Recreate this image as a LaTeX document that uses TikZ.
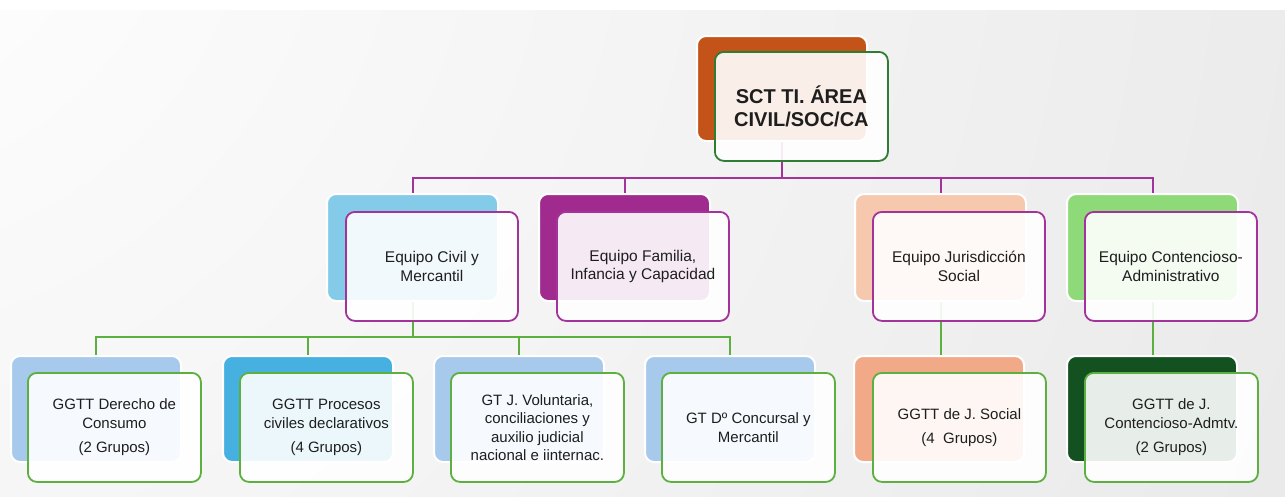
\documentclass[tikz,border=0pt]{standalone}
\usepackage{fontspec}
\setmainfont{Liberation Sans}
\usetikzlibrary{positioning}
\pgfdeclarelayer{bgfill}
\pgfdeclarelayer{conn}
\pgfsetlayers{bgfill,conn,main}
\definecolor{toporange}{HTML}{C4531A}
\definecolor{topgreen}{HTML}{2E7D32}
\definecolor{purp}{HTML}{A3339A}
\definecolor{lgreen}{HTML}{5BB040}
\definecolor{cCivil}{HTML}{84CBEA}
\definecolor{cFam}{HTML}{A12A8F}
\definecolor{cSoc}{HTML}{F6C8AD}
\definecolor{cCA}{HTML}{8FDA78}
\definecolor{cLblue}{HTML}{A7C9EB}
\definecolor{cProc}{HTML}{46B0E1}
\definecolor{cSoc3}{HTML}{F2A987}
\definecolor{cCA3}{HTML}{145121}
\definecolor{txt}{HTML}{1E1E1E}
\tikzset{
  backbox/.style={rectangle, rounded corners=9pt, draw=white, line width=2pt, inner sep=0pt, anchor=north west},
  frontbox/.style={rectangle, rounded corners=9pt, line width=1.8pt, fill=white, fill opacity=0.9, text opacity=1, text=txt, align=center, inner sep=0pt, anchor=north west},
  lvtwoback/.style={backbox, minimum width=171pt, minimum height=107pt},
  lvtwofront/.style={frontbox, draw=purp, minimum width=172pt, minimum height=109pt, font=\fontsize{15.5}{18.5}\selectfont},
  lvthreeback/.style={backbox, minimum width=170pt, minimum height=106pt},
  lvthreefront/.style={frontbox, draw=lgreen, minimum width=173pt, minimum height=109pt, font=\fontsize{15}{18.5}\selectfont},
  purpline/.style={draw=purp, line width=2pt},
  greenline/.style={draw=lgreen, line width=2pt},
}
\begin{document}
\begin{tikzpicture}[x=1pt,y=-1pt]
\useasboundingbox (0,0) rectangle (1285,496);
\begin{pgfonlayer}{bgfill}
\fill[white] (0,0) rectangle (1285,496);
\begin{scope}
\clip (0,10) rectangle (1285,496);
\shade[inner color=white, outer color=black!9] (-150,-150) circle (1700);
\end{scope}
\end{pgfonlayer}

% top
\node[backbox, fill=toporange, minimum width=170pt, minimum height=105pt] (topb) at (696,35) {};
\node[frontbox, draw=topgreen, minimum width=173pt, minimum height=109pt, font=\fontsize{20}{23.5}\selectfont\bfseries] (topf) at (714,51) {SCT TI. ÁREA\\CIVIL/SOC/CA};

% level 2
\node[lvtwoback, fill=cCivil] (civb) at (326,193) {};
\node[lvtwofront] (civf) at (345,211) {Equipo Civil y\\Mercantil};
\node[lvtwoback, fill=cFam] (famb) at (538,193) {};
\node[lvtwofront] (famf) at (556,211) {Equipo Familia,\\Infancia y Capacidad};
\node[lvtwoback, fill=cSoc] (socb) at (854,193) {};
\node[lvtwofront] (socf) at (872,211) {Equipo Jurisdicción\\Social};
\node[lvtwoback, fill=cCA] (cab) at (1066,193) {};
\node[lvtwofront] (caf) at (1084,211) {Equipo Contencioso-\\Administrativo};

% level 3
\node[lvthreeback, fill=cLblue] (conb) at (10,355) {};
\node[lvthreefront] (conf) at (27,372) {GGTT Derecho de\\Consumo\\[6pt](2 Grupos)};
\node[lvthreeback, fill=cProc] (prob) at (222,355) {};
\node[lvthreefront] (prof) at (239,372) {GGTT Procesos\\civiles declarativos\\[6pt](4 Grupos)};
\node[lvthreeback, fill=cLblue] (volb) at (433,355) {};
\node[lvthreefront] (volf) at (450,372) {GT J. Voluntaria,\\conciliaciones y\\auxilio judicial\\nacional e iinternac.};
\node[lvthreeback, fill=cLblue] (concb) at (644,355) {};
\node[lvthreefront] (concf) at (661,372) {GT Dº Concursal y\\Mercantil};
\node[lvthreeback, fill=cSoc3] (js3b) at (853,355) {};
\node[lvthreefront] (js3f) at (872,372) {GGTT de J. Social\\[6pt](4~~Grupos)};
\node[lvthreeback, fill=cCA3] (ca3b) at (1066,355) {};
\node[lvthreefront] (ca3f) at (1084,372) {GGTT de J.\\Contencioso-Admtv.\\[6pt](2 Grupos)};

\begin{pgfonlayer}{conn}
\coordinate (busa) at (0,178);
\draw[purpline] (topb.south) -- (topb.south |- busa);
\draw[purpline] (civb.north) -- (civb.north |- busa) -- (cab.north |- busa) -- (cab.north);
\draw[purpline] (famb.north) -- (famb.north |- busa);
\draw[purpline] (socb.north) -- (socb.north |- busa);
\coordinate (busb) at (0,337);
\draw[greenline] (civb.south) -- (civb.south |- busb);
\draw[greenline] (conb.north) -- (conb.north |- busb) -- (concb.north |- busb) -- (concb.north);
\draw[greenline] (prob.north) -- (prob.north |- busb);
\draw[greenline] (volb.north) -- (volb.north |- busb);
\draw[greenline] (socb.south) -- (js3b.north -| socb.south);
\draw[greenline] (cab.south) -- (ca3b.north -| cab.south);
\end{pgfonlayer}
\end{tikzpicture}
\end{document}
